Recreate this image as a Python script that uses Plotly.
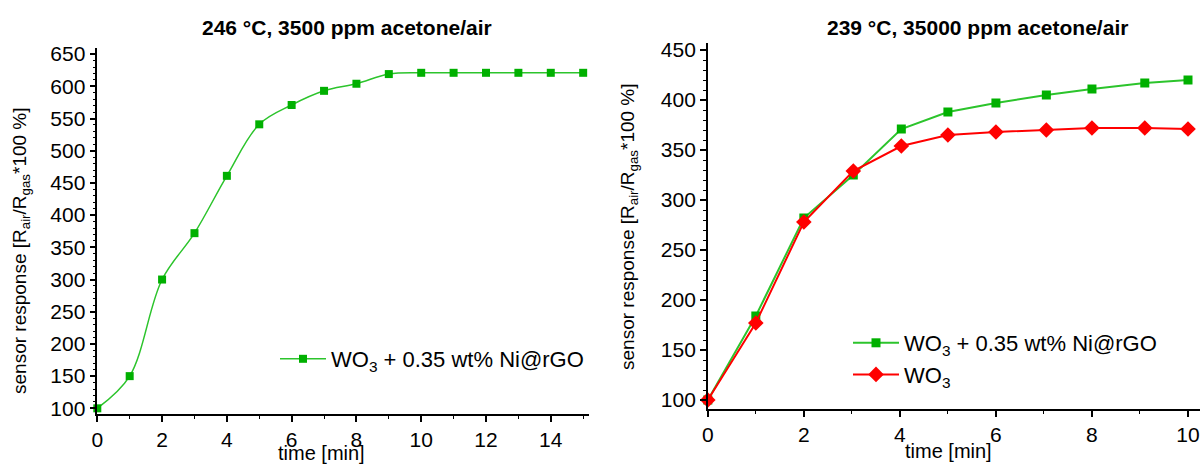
import plotly.graph_objects as go

# ---- data ----
time_left = [0, 1, 2, 3, 4, 5, 6, 7, 8, 9, 10, 11, 12, 13, 14, 15]
resp_left_ni = [100, 150, 300, 372, 461, 541, 571, 593, 604, 619, 621, 621, 621, 621, 621, 621]

time_right = [0, 1, 2, 3.03, 4.03, 5, 6, 7.05, 8, 9.1, 10]
resp_right_ni = [100, 184, 282, 325, 371, 388, 397, 405, 411, 417, 420]
resp_right_wo3 = [100, 177, 278, 329, 354, 365, 368, 370, 372, 372, 371]

title_left = "246 °C, 3500 ppm acetone/air"
title_right = "239 °C, 35000 ppm acetone/air"
name_ni = "WO<sub>3</sub> + 0.35 wt% Ni@rGO"
name_wo3 = "WO<sub>3</sub>"
ytitle = "sensor response [R<sub>air</sub>/R<sub>gas</sub>*100 %]"
xtitle = "time [min]"

GREEN_M = "#00b000"
GREEN_L = "#2cc42c"
RED = "#ff0000"
FONT = "Liberation Sans, Arial, sans-serif"

W, H = 1200, 465
def px(x):
    return x / W
def py(y):
    return (H - y) / H

fig = go.Figure()
fig.add_trace(go.Scatter(
    x=time_left, y=resp_left_ni, name=name_ni, mode="lines+markers",
    line=dict(color=GREEN_L, width=1.5, shape="spline", smoothing=1.0),
    marker=dict(symbol="square", size=8, color=GREEN_M),
    xaxis="x", yaxis="y", legend="legend", cliponaxis=False))
fig.add_trace(go.Scatter(
    x=time_right, y=resp_right_ni, name=name_ni, mode="lines+markers",
    line=dict(color=GREEN_L, width=2),
    marker=dict(symbol="square", size=9, color=GREEN_M),
    xaxis="x2", yaxis="y2", legend="legend2", cliponaxis=False))
fig.add_trace(go.Scatter(
    x=time_right, y=resp_right_wo3, name=name_wo3, mode="lines+markers",
    line=dict(color=RED, width=2),
    marker=dict(symbol="diamond", size=12, color=RED),
    xaxis="x2", yaxis="y2", legend="legend2", cliponaxis=False))

axis_common = dict(showline=True, linecolor="black", linewidth=1.5, ticks="outside",
                   ticklen=6, tickwidth=1.5, tickcolor="black", showgrid=False, zeroline=False,
                   automargin=False,
                   tickfont=dict(size=21, color="black", family=FONT))
minor = dict(ticks="outside", ticklen=3, tickcolor="black", tickwidth=1.2)
ytitle_font = dict(size=19, color="black", family=FONT)
xtitle_font = dict(size=20, color="black", family=FONT)

fig.update_layout(
    width=W, height=H, margin=dict(l=0, r=0, t=0, b=0, autoexpand=False),
    paper_bgcolor="white", plot_bgcolor="white",
    font=dict(family=FONT, color="black"),
    xaxis=dict(domain=[px(97.3), px(589)], range=[0, 15.18], dtick=2, anchor="y",
               minor=dict(dtick=1, **minor), **axis_common),
    yaxis=dict(domain=[py(414), py(48)], range=[91.2, 659.5], dtick=50, anchor="x",
               minor=dict(dtick=10, **minor), **axis_common),
    xaxis2=dict(domain=[px(707.8), px(1200)], range=[0, 10.25], dtick=2, anchor="y2",
                minor=dict(dtick=1, **minor), **axis_common),
    yaxis2=dict(domain=[py(409.3), py(43)], range=[90.7, 457], dtick=50, anchor="x2",
                minor=dict(dtick=10, **minor), **axis_common),
    legend=dict(x=px(275), y=py(359), xanchor="left", yanchor="middle", itemwidth=46,
                bgcolor="rgba(0,0,0,0)", font=dict(size=22, family=FONT, color="black")),
    legend2=dict(x=px(848), y=py(359), xanchor="left", yanchor="middle", itemwidth=46,
                 bgcolor="rgba(0,0,0,0)", font=dict(size=22, family=FONT, color="black"),
                 tracegroupgap=0),
    showlegend=True,
    annotations=[
        dict(text="<b>" + title_left + "</b>", x=px(347), y=py(27), xref="paper", yref="paper",
             showarrow=False, xanchor="center", yanchor="middle",
             font=dict(size=21, family=FONT, color="black")),
        dict(text="<b>" + title_right + "</b>", x=px(978), y=py(28), xref="paper", yref="paper",
             showarrow=False, xanchor="center", yanchor="middle",
             font=dict(size=21, family=FONT, color="black")),
        dict(text=ytitle, x=px(21), y=py(251), xref="paper", yref="paper", textangle=-90,
             showarrow=False, xanchor="center", yanchor="middle", font=ytitle_font),
        dict(text=ytitle, x=px(629), y=py(227), xref="paper", yref="paper", textangle=-90,
             showarrow=False, xanchor="center", yanchor="middle", font=ytitle_font),
        dict(text=xtitle, x=px(321), y=py(452.5), xref="paper", yref="paper",
             showarrow=False, xanchor="center", yanchor="middle", font=xtitle_font),
        dict(text=xtitle, x=px(948), y=py(451), xref="paper", yref="paper",
             showarrow=False, xanchor="center", yanchor="middle", font=xtitle_font),
    ],
)

fig.write_html("out.html", config={"displayModeBar": False},
               post_script="document.body.style.margin='0';document.body.style.overflow='hidden';")
